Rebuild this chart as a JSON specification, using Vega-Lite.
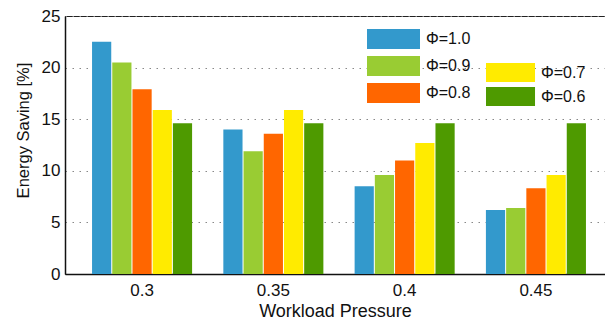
{
  "$schema": "https://vega.github.io/schema/vega-lite/v6.json",
  "width": 548,
  "height": 258,
  "autosize": "none",
  "padding": {"left": 65, "top": 16, "right": 0, "bottom": 46},
  "background": "white",
  "config": {
    "view": {"stroke": "#222222", "strokeWidth": 1},
    "font": "Liberation Sans"
  },
  "data": {
    "values": [
      {"p": "0.3", "phi": "1.0", "v": 22.5},
      {"p": "0.3", "phi": "0.9", "v": 20.5},
      {"p": "0.3", "phi": "0.8", "v": 17.9},
      {"p": "0.3", "phi": "0.7", "v": 15.9},
      {"p": "0.3", "phi": "0.6", "v": 14.6},
      {"p": "0.35", "phi": "1.0", "v": 14.0},
      {"p": "0.35", "phi": "0.9", "v": 11.9},
      {"p": "0.35", "phi": "0.8", "v": 13.6},
      {"p": "0.35", "phi": "0.7", "v": 15.9},
      {"p": "0.35", "phi": "0.6", "v": 14.6},
      {"p": "0.4", "phi": "1.0", "v": 8.5},
      {"p": "0.4", "phi": "0.9", "v": 9.6},
      {"p": "0.4", "phi": "0.8", "v": 11.0},
      {"p": "0.4", "phi": "0.7", "v": 12.7},
      {"p": "0.4", "phi": "0.6", "v": 14.6},
      {"p": "0.45", "phi": "1.0", "v": 6.2},
      {"p": "0.45", "phi": "0.9", "v": 6.4},
      {"p": "0.45", "phi": "0.8", "v": 8.3},
      {"p": "0.45", "phi": "0.7", "v": 9.6},
      {"p": "0.45", "phi": "0.6", "v": 14.6}
    ]
  },
  "encoding": {
    "x": {
      "field": "p",
      "type": "nominal",
      "sort": null,
      "scale": {"paddingInner": 0.238, "paddingOuter": 0.206},
      "axis": {
        "title": "Workload Pressure",
        "titleFontSize": 18,
        "titleFontWeight": "normal",
        "titleColor": "#111111",
        "titleX": 270,
        "titlePadding": 4,
        "labelAngle": 0,
        "labelFontSize": 17,
        "labelColor": "#111111",
        "labelPadding": 8,
        "ticks": false,
        "domainColor": "#111111",
        "domainWidth": 1.5
      }
    },
    "xOffset": {
      "field": "phi",
      "type": "nominal",
      "sort": null,
      "scale": {"domain": ["1.0", "0.9", "0.8", "0.7", "0.6"], "paddingInner": 0.05, "paddingOuter": 0}
    },
    "y": {
      "field": "v",
      "type": "quantitative",
      "scale": {"domain": [0, 25], "nice": false},
      "axis": {
        "title": "Energy Saving [%]",
        "titleFontSize": 16.5,
        "titleFontWeight": "normal",
        "titleColor": "#111111",
        "titleX": -37,
        "titleY": 114,
        "titleAlign": "center",
        "titleBaseline": "alphabetic",
        "values": [0, 5, 10, 15, 20, 25],
        "labelFontSize": 17,
        "labelColor": "#111111",
        "labelPadding": 5,
        "ticks": false,
        "grid": true,
        "gridDash": [1.5, 5.5],
        "gridColor": "#888888",
        "gridWidth": 1,
        "domainColor": "#111111",
        "domainWidth": 1.5
      }
    }
  },
  "layer": [
    {
      "transform": [{"filter": {"field": "phi", "oneOf": ["1.0", "0.9", "0.8"]}}],
      "mark": {"type": "bar"},
      "encoding": {
        "color": {
          "field": "phi",
          "type": "nominal",
          "sort": null,
          "scale": {"domain": ["1.0", "0.9", "0.8"], "range": ["#3399cc", "#99cc33", "#ff6600"]},
          "legend": {
            "orient": "none",
            "legendX": 302,
            "legendY": 13,
            "title": null,
            "padding": 0,
            "symbolType": "M-1,-1H4.3V1H-1Z",
            "symbolSize": 400,
            "symbolStrokeWidth": 0,
            "symbolOpacity": 1,
            "labelFontSize": 16,
            "labelColor": "#111111",
            "labelOffset": 39,
            "rowPadding": 7,
            "labelExpr": "'Φ=' + datum.label"
          }
        }
      }
    },
    {
      "transform": [{"filter": {"field": "phi", "oneOf": ["0.7", "0.6"]}}],
      "mark": {"type": "bar"},
      "encoding": {
        "fill": {
          "field": "phi",
          "type": "nominal",
          "sort": null,
          "scale": {"domain": ["0.7", "0.6"], "range": ["#ffeb00", "#4e9a00"]},
          "legend": {
            "orient": "none",
            "legendX": 421,
            "legendY": 47,
            "title": null,
            "padding": 0,
            "symbolType": "M-1,-1H4.16V1H-1Z",
            "symbolSize": 361,
            "symbolStrokeWidth": 0,
            "symbolOpacity": 1,
            "labelFontSize": 16,
            "labelColor": "#111111",
            "labelOffset": 36,
            "rowPadding": 5,
            "labelExpr": "'Φ=' + datum.label"
          }
        }
      }
    }
  ]
}
